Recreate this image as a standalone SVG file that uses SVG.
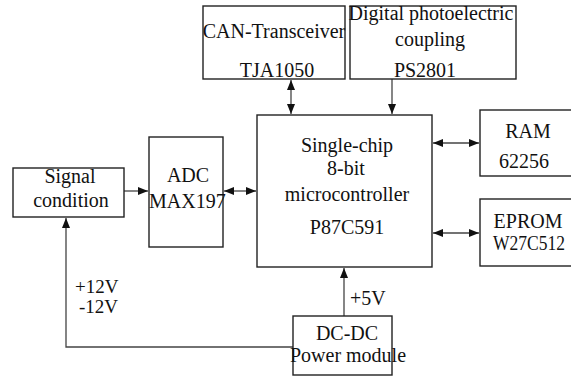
<svg xmlns="http://www.w3.org/2000/svg" width="571" height="377" viewBox="0 0 571 377">
<style>
.box{fill:#fff;stroke:#222;stroke-width:1.4}
.ln{fill:none;stroke:#444;stroke-width:1.3}
text{font-family:"Liberation Serif","Times New Roman",serif;font-size:20px;fill:#111}
.m{text-anchor:middle}
.v{font-size:19px}
</style>
<defs>
<marker id="ah" viewBox="0 0 10 8" refX="10" refY="4" markerWidth="10" markerHeight="8" markerUnits="userSpaceOnUse" orient="auto-start-reverse">
<path d="M0,0 L10,4 L0,8 Z" fill="#111"/>
</marker>
</defs>
<rect width="571" height="377" fill="#fff"/>
<g id="connectors">
<line class="ln" x1="291" y1="80" x2="291" y2="114" marker-start="url(#ah)" marker-end="url(#ah)"/>
<line class="ln" x1="392" y1="79" x2="392" y2="114" marker-end="url(#ah)"/>
<line class="ln" x1="124" y1="191" x2="148" y2="191" marker-end="url(#ah)"/>
<line class="ln" x1="224" y1="191" x2="256" y2="191" marker-start="url(#ah)" marker-end="url(#ah)"/>
<line class="ln" x1="433" y1="143" x2="479" y2="143" marker-start="url(#ah)" marker-end="url(#ah)"/>
<line class="ln" x1="433" y1="233" x2="479" y2="233" marker-start="url(#ah)" marker-end="url(#ah)"/>
<line class="ln" x1="344" y1="316" x2="344" y2="268" marker-end="url(#ah)"/>
<polyline class="ln" points="293,347 66,347 66,218" marker-end="url(#ah)"/>
<text class="v" x="75" y="293">+12V</text>
<text class="v" x="79" y="313">-12V</text>
<text x="350" y="305">+5V</text>
</g>
<g id="can">
<rect class="box" x="203" y="6" width="142" height="73"/>
<text class="m" x="274" y="38">CAN-Transceiver</text>
<text class="m" x="277" y="77">TJA1050</text>
</g>
<g id="photo">
<rect class="box" x="350" y="6" width="166" height="73"/>
<text class="m" x="431" y="20">Digital photoelectric</text>
<text class="m" x="430" y="46">coupling</text>
<text class="m" x="425" y="77">PS2801</text>
</g>
<g id="mcu">
<rect class="box" x="257" y="115" width="175" height="152"/>
<text class="m" x="347" y="152">Single-chip</text>
<text class="m" x="346" y="175">8-bit</text>
<text class="m" x="347" y="201">microcontroller</text>
<text class="m" x="347" y="234">P87C591</text>
</g>
<g id="ram">
<rect class="box" x="480" y="110" width="96" height="66"/>
<text class="m" x="528" y="138">RAM</text>
<text class="m" x="524" y="168">62256</text>
</g>
<g id="eprom">
<rect class="box" x="480" y="199" width="96" height="67"/>
<text class="m" x="528" y="228">EPROM</text>
<text x="493" y="250" textLength="72" lengthAdjust="spacingAndGlyphs">W27C512</text>
</g>
<g id="signal">
<rect class="box" x="13" y="168" width="111" height="49"/>
<text class="m" x="70" y="183">Signal</text>
<text class="m" x="71" y="207">condition</text>
</g>
<g id="adc">
<rect class="box" x="149" y="137" width="74" height="110"/>
<text class="m" x="188" y="182">ADC</text>
<text x="149" y="208">MAX197</text>
</g>
<g id="dcdc">
<rect class="box" x="293" y="316" width="99" height="59"/>
<text class="m" x="347" y="340">DC-DC</text>
<text class="m" x="348" y="362">Power module</text>
</g>
</svg>
